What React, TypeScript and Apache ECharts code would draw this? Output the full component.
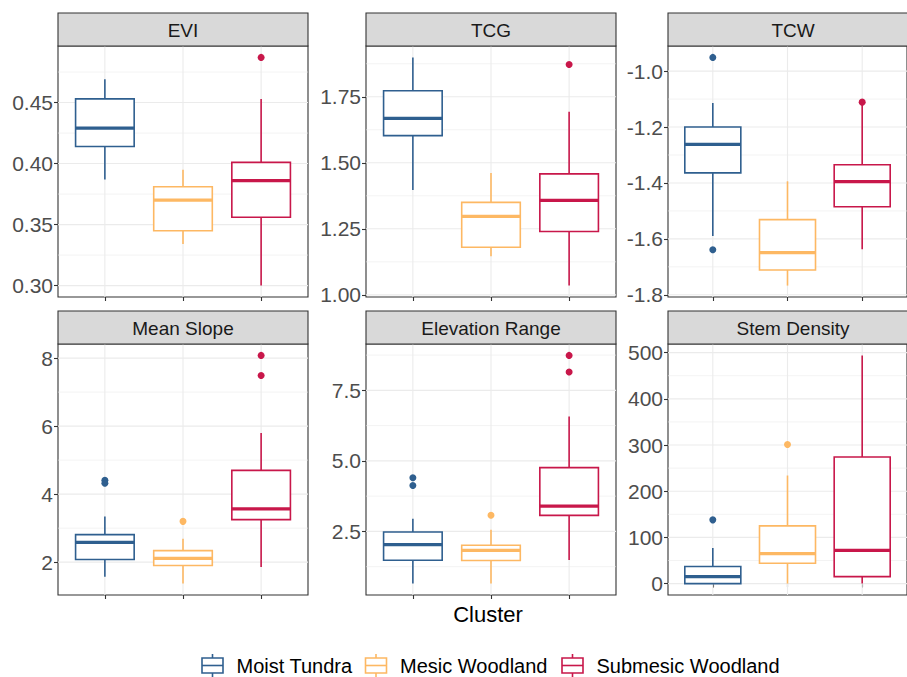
import React, { useEffect, useRef } from 'react';
import * as echarts from 'echarts';

// ---------------- data ----------------
const categories = ['Moist Tundra', 'Mesic Woodland', 'Submesic Woodland'];
const clusterColors = ['#2F5F8F', '#FDB863', '#C8174A'];

const panelTitles = ['EVI', 'TCG', 'TCW', 'Mean Slope', 'Elevation Range', 'Stem Density'];

// boxes: [lower whisker, Q1, median, Q3, upper whisker] per cluster
const eviBoxes = [
  [0.387, 0.414, 0.429, 0.453, 0.469],
  [0.334, 0.345, 0.370, 0.381, 0.395],
  [0.300, 0.356, 0.386, 0.401, 0.453],
];
const eviOutliers = [[], [], [0.487]];
const eviTicks = [0.30, 0.35, 0.40, 0.45];

const tcgBoxes = [
  [1.397, 1.603, 1.668, 1.773, 1.899],
  [1.146, 1.180, 1.297, 1.350, 1.461],
  [1.035, 1.240, 1.358, 1.458, 1.693],
];
const tcgOutliers = [[], [], [1.872]];
const tcgTicks = [1.00, 1.25, 1.50, 1.75];

const tcwBoxes = [
  [-1.590, -1.364, -1.262, -1.200, -1.114],
  [-1.767, -1.711, -1.649, -1.531, -1.394],
  [-1.637, -1.485, -1.395, -1.335, -1.121],
];
const tcwOutliers = [[-0.951, -1.639], [], [-1.111]];
const tcwTicks = [-1.8, -1.6, -1.4, -1.2, -1.0];

const slopeBoxes = [
  [1.57, 2.08, 2.58, 2.81, 3.34],
  [1.37, 1.90, 2.11, 2.34, 2.69],
  [1.86, 3.25, 3.57, 4.70, 5.80],
];
const slopeOutliers = [[4.41, 4.32], [3.20], [8.08, 7.49]];
const slopeTicks = [2, 4, 6, 8];

const elevBoxes = [
  [0.65, 1.48, 2.03, 2.48, 2.95],
  [0.65, 1.47, 1.83, 2.01, 2.56],
  [1.49, 3.07, 3.40, 4.76, 6.57],
];
const elevOutliers = [[4.40, 4.13], [3.07], [8.74, 8.15]];
const elevTicks = [2.5, 5.0, 7.5];

const stemBoxes = [
  [0, 0, 15, 37, 77],
  [0, 44, 65, 125, 234],
  [0, 15, 72, 274, 494],
];
const stemOutliers = [[138], [301], []];
const stemTicks = [0, 100, 200, 300, 400, 500];

const panelBoxes = [eviBoxes, tcgBoxes, tcwBoxes, slopeBoxes, elevBoxes, stemBoxes];
const panelOutliers = [eviOutliers, tcgOutliers, tcwOutliers, slopeOutliers, elevOutliers, stemOutliers];
const panelTicks = [eviTicks, tcgTicks, tcwTicks, slopeTicks, elevTicks, stemTicks];
const panelDecimals = [2, 2, 1, 0, 1, 0];

// ---------------- layout ----------------
const FONT = '"Liberation Sans", Arial, Helvetica, sans-serif';
const COL_LEFT = [58, 366, 668];
const ROW_TOP = [46, 344];
const PANEL_W = 250;
const PANEL_H = 251;
const STRIP_H = 33;
const X_MIN = 0.4;
const X_MAX = 3.6;
const BOX_HALF = 0.375;

function buildOption() {
  const grid: any[] = [];
  const xAxis: any[] = [];
  const yAxis: any[] = [];
  const series: any[] = [];
  const graphic: any[] = [];

  panelTitles.forEach((title, p) => {
    const col = p % 3;
    const row = Math.floor(p / 3);
    const left = COL_LEFT[col];
    const top = ROW_TOP[row];

    const boxes = panelBoxes[p];
    const outs = panelOutliers[p];
    const ticks = panelTicks[p];
    const dec = panelDecimals[p];

    let lo = Infinity;
    let hi = -Infinity;
    boxes.forEach((b) => b.forEach((v) => { lo = Math.min(lo, v); hi = Math.max(hi, v); }));
    outs.forEach((o) => o.forEach((v) => { lo = Math.min(lo, v); hi = Math.max(hi, v); }));
    const pad = (hi - lo) * 0.05;
    const yMin = lo - pad;
    const yMax = hi + pad;

    const step = ticks[1] - ticks[0];
    const minor: number[] = [];
    for (let i = -1; i < ticks.length; i++) {
      const m = ticks[0] + step * (i + 0.5);
      if (m > yMin && m < yMax) minor.push(m);
    }

    grid.push({
      left,
      top,
      width: PANEL_W,
      height: PANEL_H,
      show: true,
      borderColor: '#333333',
      borderWidth: 1.1,
      backgroundColor: '#ffffff',
      containLabel: false,
    });

    xAxis.push({
      gridIndex: p,
      type: 'value',
      min: X_MIN,
      max: X_MAX,
      splitLine: { show: false },
      axisLine: { show: false },
      axisLabel: { show: false, customValues: [1, 2, 3] },
      axisTick: {
        show: true,
        customValues: [1, 2, 3],
        length: 4,
        lineStyle: { color: '#333333', width: 1.1 },
      },
    });

    yAxis.push({
      gridIndex: p,
      type: 'value',
      min: yMin,
      max: yMax,
      splitLine: { show: false },
      axisLine: { show: false },
      axisTick: {
        show: true,
        customValues: ticks,
        length: 4,
        lineStyle: { color: '#333333', width: 1.1 },
      },
      axisLabel: {
        show: true,
        customValues: ticks,
        formatter: (v: number) => Number(v).toFixed(dec),
        color: '#4D4D4D',
        fontSize: 21,
        fontFamily: FONT,
        margin: 5,
      },
    });

    // grid lines
    const gridData: number[][] = [];
    ticks.forEach((t) => gridData.push([0, t, 1]));
    minor.forEach((t) => gridData.push([0, t, 0]));
    [1, 2, 3].forEach((x) => gridData.push([1, x, 1]));
    series.push({
      type: 'custom',
      xAxisIndex: p,
      yAxisIndex: p,
      silent: true,
      z: 1,
      data: gridData,
      renderItem: (params: any, api: any) => {
        const o = api.value(0);
        const v = api.value(1);
        const major = api.value(2);
        let p1: number[];
        let p2: number[];
        if (o === 0) {
          p1 = api.coord([X_MIN, v]);
          p2 = api.coord([X_MAX, v]);
        } else {
          p1 = api.coord([v, yMin]);
          p2 = api.coord([v, yMax]);
        }
        return {
          type: 'line',
          shape: { x1: p1[0], y1: p1[1], x2: p2[0], y2: p2[1] },
          style: { stroke: '#EBEBEB', lineWidth: major ? 1.1 : 0.6 },
        };
      },
    });

    // boxes
    const boxData = boxes.map((b, i) => [i + 1, b[0], b[1], b[2], b[3], b[4], i]);
    series.push({
      type: 'custom',
      name: title,
      xAxisIndex: p,
      yAxisIndex: p,
      z: 3,
      encode: { x: 0, y: [1, 2, 3, 4, 5] },
      data: boxData,
      renderItem: (params: any, api: any) => {
        const x = api.value(0);
        const wLo = api.value(1);
        const q1 = api.value(2);
        const med = api.value(3);
        const q3 = api.value(4);
        const wHi = api.value(5);
        const c = clusterColors[api.value(6)];
        const tl = api.coord([x - BOX_HALF, q3]);
        const br = api.coord([x + BOX_HALF, q1]);
        const pLo = api.coord([x, wLo]);
        const pQ1 = api.coord([x, q1]);
        const pQ3 = api.coord([x, q3]);
        const pHi = api.coord([x, wHi]);
        const mL = api.coord([x - BOX_HALF, med]);
        const mR = api.coord([x + BOX_HALF, med]);
        return {
          type: 'group',
          children: [
            { type: 'line', shape: { x1: pLo[0], y1: pLo[1], x2: pQ1[0], y2: pQ1[1] }, style: { stroke: c, lineWidth: 1.6 } },
            { type: 'line', shape: { x1: pQ3[0], y1: pQ3[1], x2: pHi[0], y2: pHi[1] }, style: { stroke: c, lineWidth: 1.6 } },
            {
              type: 'rect',
              shape: { x: tl[0], y: tl[1], width: br[0] - tl[0], height: br[1] - tl[1] },
              style: { fill: '#ffffff', stroke: c, lineWidth: 1.6 },
            },
            { type: 'line', shape: { x1: mL[0], y1: mL[1], x2: mR[0], y2: mR[1] }, style: { stroke: c, lineWidth: 3.2 } },
          ],
        };
      },
    });

    // outliers
    const outData: any[] = [];
    outs.forEach((list, i) => list.forEach((v) => outData.push({ value: [i + 1, v], itemStyle: { color: clusterColors[i], opacity: 1 } })));
    series.push({
      type: 'scatter',
      xAxisIndex: p,
      yAxisIndex: p,
      z: 4,
      symbol: 'circle',
      symbolSize: 7,
      itemStyle: { opacity: 1 },
      data: outData,
    });

    // strip
    const stripTop = top - STRIP_H;
    graphic.push({
      type: 'rect',
      silent: true,
      z: 10,
      shape: { x: left, y: stripTop, width: PANEL_W, height: STRIP_H },
      style: { fill: '#D9D9D9', stroke: '#333333', lineWidth: 1.1 },
    });
    graphic.push({
      type: 'text',
      silent: true,
      z: 11,
      x: left + PANEL_W / 2,
      y: stripTop + STRIP_H / 2 + 1,
      style: {
        text: title,
        fill: '#1A1A1A',
        font: `19px ${FONT}`,
        align: 'center',
        verticalAlign: 'middle',
        textAlign: 'center',
        textVerticalAlign: 'middle',
      },
    });
  });

  // x-axis title
  graphic.push({
    type: 'text',
    silent: true,
    x: 488,
    y: 614,
    style: {
      text: 'Cluster',
      fill: '#000000',
      font: `22px ${FONT}`,
      align: 'center',
      verticalAlign: 'middle',
      textAlign: 'center',
      textVerticalAlign: 'middle',
    },
  });

  // legend
  const keyCenters = [212.5, 376, 572.5];
  const textLefts = [236.5, 400, 596.5];
  categories.forEach((name, i) => {
    const cx = keyCenters[i];
    const c = clusterColors[i];
    graphic.push({ type: 'line', silent: true, shape: { x1: cx, y1: 654, x2: cx, y2: 658 }, style: { stroke: c, lineWidth: 1.6 } });
    graphic.push({ type: 'line', silent: true, shape: { x1: cx, y1: 673, x2: cx, y2: 677 }, style: { stroke: c, lineWidth: 1.6 } });
    graphic.push({
      type: 'rect',
      silent: true,
      shape: { x: cx - 10.5, y: 658, width: 21, height: 15 },
      style: { fill: '#ffffff', stroke: c, lineWidth: 1.6 },
    });
    graphic.push({ type: 'line', silent: true, shape: { x1: cx - 10.5, y1: 665.5, x2: cx + 10.5, y2: 665.5 }, style: { stroke: c, lineWidth: 1.6 } });
    graphic.push({
      type: 'text',
      silent: true,
      x: textLefts[i],
      y: 666,
      style: {
        text: name,
        fill: '#000000',
        font: `20px ${FONT}`,
        align: 'left',
        verticalAlign: 'middle',
        textAlign: 'left',
        textVerticalAlign: 'middle',
      },
    });
  });

  return {
    animation: false,
    backgroundColor: '#ffffff',
    textStyle: { fontFamily: FONT },
    grid,
    xAxis,
    yAxis,
    series,
    graphic,
  };
}

export default function App() {
  const ref = useRef<HTMLDivElement>(null);
  useEffect(() => {
    if (!ref.current) return;
    const chart = echarts.init(ref.current, undefined, { renderer: 'svg' });
    chart.setOption(buildOption() as any);
    return () => chart.dispose();
  }, []);
  return (
    <div
      ref={ref}
      style={{ position: 'absolute', left: 0, top: 0, width: 907, height: 677, background: '#ffffff' }}
    />
  );
}
